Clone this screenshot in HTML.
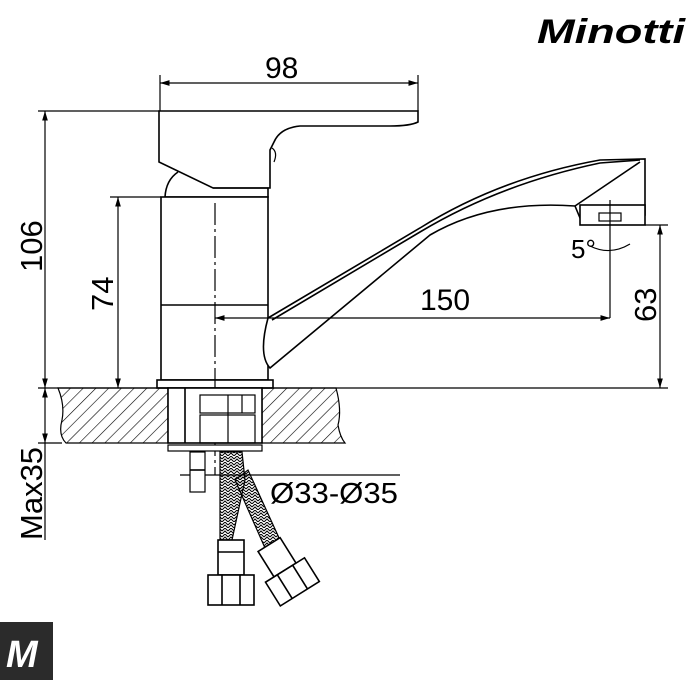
<!DOCTYPE html>
<html><head><meta charset="utf-8"><style>
html,body{margin:0;padding:0;background:#fff;}
svg{display:block;}
text{font-family:"Liberation Sans",sans-serif;fill:#000;}
</style></head><body>
<svg width="700" height="700" viewBox="0 0 700 700" xmlns="http://www.w3.org/2000/svg">
<defs>
<pattern id="h" width="9" height="9" patternUnits="userSpaceOnUse" patternTransform="rotate(45)">
<line x1="0" y1="0" x2="0" y2="9" stroke="#000" stroke-width="1.2"/>
</pattern>
<pattern id="br" width="6" height="6" patternUnits="userSpaceOnUse">
<path d="M0 3 L3 0 L6 3 M0 6 L3 3 L6 6" stroke="#000" fill="none" stroke-width="1"/>
</pattern>
<marker id="a" viewBox="0 0 10 10" refX="10" refY="5" markerWidth="8" markerHeight="8" orient="auto-start-reverse"><path d="M0 2 L10 5 L0 8 z" fill="#000"/></marker>
</defs>
<text x="537" y="43" font-size="34" font-weight="bold" font-style="italic" fill="#222" textLength="148" lengthAdjust="spacingAndGlyphs">Minotti</text>
<g stroke="#000" fill="none" stroke-width="1.6">
<path d="M159 111 L418 111 L418 122 Q410 126 390 126 L300 126 Q280 128 274 142 L270 150 L270 188 L213 188 L159 162 Z" fill="#fff"/>
<path d="M272 148 Q278 152 274 162" stroke-width="1.2"/>
<path d="M213 188 L268 188 L268 197 L165 197 Q166 180 178 172" />
<rect x="161" y="197" width="107" height="183" fill="#fff"/>
<line x1="161" y1="305" x2="268" y2="305"/>
<rect x="157" y="380" width="116" height="8" fill="#fff"/>
<path d="M268 318 L420 228 Q500 178 600 160 L645 159 L645 188 L645 215 L605 215 L600 218 L580 218 L575 206 Q490 200 430 235 L270 368 Q258 355 268 318 Z" fill="#fff"/>
<path d="M272 320 L420 232 Q500 184 600 163 L640 160"/>
<path d="M575 206 L640 162"/>
<rect x="580" y="205" width="65" height="20" fill="#fff"/>
<rect x="599" y="213" width="22" height="8" stroke-width="1.2"/>
<path d="M215 203 V475" stroke-width="1.2" stroke-dasharray="22 4 3 4"/>
<g stroke-width="1.2">
<line x1="160" y1="75" x2="160" y2="111"/><line x1="418" y1="75" x2="418" y2="111"/>
<line x1="160" y1="83" x2="418" y2="83" marker-start="url(#a)" marker-end="url(#a)"/>
<line x1="38" y1="111" x2="160" y2="111"/>
<line x1="45" y1="111" x2="45" y2="388" marker-start="url(#a)" marker-end="url(#a)"/>
<line x1="110" y1="197" x2="161" y2="197"/>
<line x1="118" y1="197" x2="118" y2="388" marker-start="url(#a)" marker-end="url(#a)"/>
<line x1="215" y1="318" x2="610" y2="318" marker-start="url(#a)" marker-end="url(#a)"/>
<line x1="610" y1="200" x2="610" y2="318"/>
<line x1="645" y1="225" x2="668" y2="225"/>
<line x1="660" y1="225" x2="660" y2="388" marker-start="url(#a)" marker-end="url(#a)"/>
<line x1="38" y1="388" x2="668" y2="388"/>
<line x1="38" y1="443" x2="62" y2="443"/>
<line x1="45" y1="388" x2="45" y2="443" marker-start="url(#a)" marker-end="url(#a)"/>
<line x1="45" y1="443" x2="45" y2="540"/>
<line x1="180" y1="475" x2="400" y2="475"/>
<path d="M590 246 Q610 256 630 244"/>
</g>
<path d="M58 388 Q65 405 62 420 Q58 435 66 443 L168 443 L168 388 Z" fill="url(#h)" stroke-width="1.2"/>
<path d="M262 388 L336 388 Q342 410 338 425 Q340 437 345 443 L262 443 Z" fill="url(#h)" stroke-width="1.2"/>
<rect x="168" y="388" width="94" height="55" fill="#fff"/>
<line x1="185" y1="388" x2="185" y2="443"/>
<rect x="200" y="395" width="55" height="18" stroke-width="1.2"/>
<rect x="200" y="415" width="55" height="28" stroke-width="1.2"/>
<line x1="228" y1="395" x2="228" y2="443" stroke-width="1.2"/>
<line x1="242" y1="395" x2="242" y2="413" stroke-width="1.2"/>
<rect x="168" y="445" width="94" height="6" fill="#fff" stroke-width="1.2"/>
<rect x="190" y="452" width="15" height="40" fill="#fff" stroke-width="1.2"/>
<line x1="190" y1="470" x2="205" y2="470"/>
<path d="M220 452 L242 452 L245 480 L232 540 L220 540 Z" fill="url(#br)" stroke-width="1.2"/>
<path d="M235 480 L248 470 L280 540 L265 548 Z" fill="url(#br)" stroke-width="1.2"/>
<rect x="218" y="540" width="26" height="35" fill="#fff"/>
<line x1="218" y1="552" x2="244" y2="552"/>
<rect x="208" y="575" width="46" height="30" fill="#fff"/>
<line x1="222" y1="575" x2="222" y2="605"/><line x1="240" y1="575" x2="240" y2="605"/>
<g transform="rotate(-32 285 570)">
<rect x="272" y="540" width="26" height="30" fill="#fff"/>
<rect x="262" y="570" width="46" height="28" fill="#fff"/>
<line x1="276" y1="570" x2="276" y2="598"/><line x1="294" y1="570" x2="294" y2="598"/>
</g>
</g>
<text x="265" y="78" font-size="30">98</text>
<text x="420" y="310" font-size="30">150</text>
<text x="571" y="258" font-size="26">5°</text>
<text x="270" y="503" font-size="29" textLength="128" lengthAdjust="spacingAndGlyphs">Ø33-Ø35</text>
<text transform="translate(42 272) rotate(-90)" font-size="31">106</text>
<text transform="translate(113 311) rotate(-90)" font-size="31">74</text>
<text transform="translate(656 322) rotate(-90)" font-size="31">63</text>
<text transform="translate(42 540) rotate(-90)" font-size="31">Max35</text>
<rect x="0" y="622" width="53" height="58" fill="#2b2b2b"/>
<text x="6" y="667" font-size="38" font-weight="bold" font-style="italic" style="fill:#fff">M</text>
</svg>
</body></html>
